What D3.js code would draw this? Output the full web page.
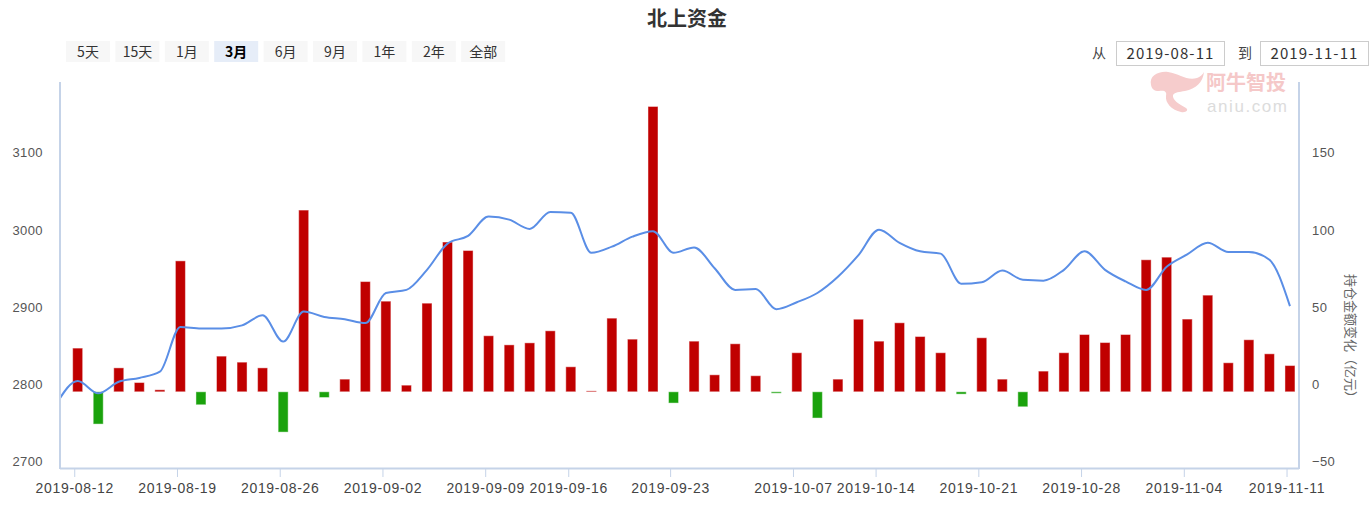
<!DOCTYPE html>
<html><head><meta charset="utf-8">
<script src="https://cdn.jsdelivr.net/npm/d3@7"></script>
<style>
body{margin:0;background:#fff;}
svg{display:block;font-family:"Microsoft YaHei","Noto Sans CJK SC","Noto Sans",sans-serif;}
</style>
</head><body>
<svg id="c" width="1372" height="505"></svg>
<script>
// ---------- data ----------
const tradeDates = [
"2019-08-09","2019-08-12","2019-08-13","2019-08-14","2019-08-15","2019-08-16",
"2019-08-19","2019-08-20","2019-08-21","2019-08-22","2019-08-23",
"2019-08-26","2019-08-27","2019-08-28","2019-08-29","2019-08-30",
"2019-09-02","2019-09-03","2019-09-04","2019-09-05","2019-09-06",
"2019-09-09","2019-09-10","2019-09-11","2019-09-12",
"2019-09-16","2019-09-17","2019-09-18","2019-09-19","2019-09-20",
"2019-09-23","2019-09-24","2019-09-25","2019-09-26","2019-09-27",
"2019-09-30",
"2019-10-08","2019-10-09","2019-10-10","2019-10-11",
"2019-10-14","2019-10-15","2019-10-16","2019-10-17","2019-10-18",
"2019-10-21","2019-10-22","2019-10-23","2019-10-24","2019-10-25",
"2019-10-28","2019-10-29","2019-10-30","2019-10-31","2019-11-01",
"2019-11-04","2019-11-05","2019-11-06","2019-11-07","2019-11-08",
"2019-11-11"];

// 上证指数 (left axis)
const indexValues = [2786,2814,2798,2813,2818,2826,2884,2882,2882,2886,2899,2865,2904,2897,2894,2889,
2928,2932,2958,2992,3002,3027,3023,3011,3033,3032,2980,2988,3001,3008,2980,2987,2960,2932,2933,2907,
2916,2928,2949,2977,3010,2993,2982,2979,2940,2942,2957,2945,2944,2958,2982,2958,2943,2932,2962,2978,
2993,2981,2981,2971,2911];

// 持仓金额变化（亿元）(right axis)
const flowValues = [null,
28.3,-20.9,15.5,6.0,1.3,84.8,-8.4,23.1,19.2,15.5,
-26.1,117.7,-3.7,8.2,71.4,58.7,4.3,57.4,97.0,91.5,
36.3,30.4,31.7,39.5,16.2,0.6,47.7,34.1,184.8,-7.3,
32.8,11.0,31.1,10.4,-0.9,25.3,-17.0,8.2,47.0,32.8,
44.7,35.8,25.3,-1.5,35.0,8.2,-9.7,13.4,25.3,37.1,
31.9,37.1,85.5,87.2,47.1,62.6,18.8,33.7,24.6,17.0];

const xTickLabels = ["2019-08-12","2019-08-19","2019-08-26","2019-09-02","2019-09-09","2019-09-16",
"2019-09-23","2019-10-07","2019-10-14","2019-10-21","2019-10-28","2019-11-04","2019-11-11"];
const leftTicks = [2700,2800,2900,3000,3100];
const rightTicks = [-50,0,50,100,150];
const leftDomain = [2700,3200];
const rightDomain = [-50,200];
const rangeButtons = ["5天","15天","1月","3月","6月","9月","1年","2年","全部"];
const selectedButton = "3月";
const rangeFrom = "2019-08-11", rangeTo = "2019-11-11";
const titleText = "北上资金";
const rightTitle = "持仓金额变化（亿元）";

// ---------- layout ----------
const P = {l:60, r:1299, t:83, b:469};
const svg = d3.select("#c");
const axisColor = "#c5d3e8";
const red = "#c00000", green = "#1aa20c", lineColor = "#5a8ee6";

// ordinal positions: points at noon, ticks at midnight
const ptTimes = tradeDates.map(s => Date.parse(s + "T12:00:00Z"));
function ordinalPos(dateStr){
  const t = Date.parse(dateStr + "T00:00:00Z");
  for (let i = 1; i < ptTimes.length; i++) {
    if (t < ptTimes[i]) return (i-1) + (t - ptTimes[i-1]) / (ptTimes[i] - ptTimes[i-1]);
  }
  return ptTimes.length - 1;
}

const x = d3.scaleLinear().domain([0.14, 60.44]).range([P.l, P.r]);
const yL = d3.scaleLinear().domain(leftDomain).range([P.b, P.t]);
const yR = d3.scaleLinear().domain(rightDomain).range([P.b, P.t]);

// ---------- title ----------
svg.append("text").attr("x", 687).attr("y", 26).attr("text-anchor","middle")
  .attr("font-size", 20).attr("font-weight","bold").attr("fill","#333").text(titleText);

// ---------- range buttons ----------
const btn = svg.append("g");
rangeButtons.forEach((b, i) => {
  const bx = 66 + i * 49.4;
  const sel = b === selectedButton;
  btn.append("rect").attr("x", bx).attr("y", 41).attr("width", 44).attr("height", 21)
    .attr("fill", sel ? "#e6edf8" : "#f7f7f7");
  btn.append("text").attr("x", bx + 22).attr("y", 56.5).attr("text-anchor","middle")
    .attr("font-size", 14).attr("fill", sel ? "#000" : "#333")
    .attr("font-weight", sel ? "bold" : "normal").text(b);
});

// ---------- date range inputs ----------
const inp = svg.append("g");
inp.append("text").attr("x", 1099).attr("y", 58).attr("text-anchor","middle")
  .attr("font-size", 14).attr("fill","#444").text("从");
inp.append("rect").attr("x", 1116.5).attr("y", 41.5).attr("width", 108).attr("height", 24)
  .attr("fill","#fff").attr("stroke","#cccccc");
inp.append("text").attr("x", 1170.5).attr("y", 58.5).attr("text-anchor","middle")
  .attr("font-size", 15).attr("letter-spacing", 1.1).attr("fill","#333").text(rangeFrom);
inp.append("text").attr("x", 1245).attr("y", 58).attr("text-anchor","middle")
  .attr("font-size", 14).attr("fill","#444").text("到");
inp.append("rect").attr("x", 1260.5).attr("y", 41.5).attr("width", 108).attr("height", 24)
  .attr("fill","#fff").attr("stroke","#cccccc");
inp.append("text").attr("x", 1314.5).attr("y", 58.5).attr("text-anchor","middle")
  .attr("font-size", 15).attr("letter-spacing", 1.1).attr("fill","#333").text(rangeTo);

// ---------- watermark ----------
const wm = svg.append("g");
wm.append("path")
  .attr("d", "M1151,85 C1149,76 1158,71 1168,72 C1180,74 1187,81 1197,78 C1200,77 1203,74 1204,72 C1203,82 1196,89 1185,91 C1179,92 1175,92 1173,95 C1172,100 1179,104 1186,108 C1189,110 1186,113 1181,112 C1172,110 1165,103 1166,96 C1167,92 1165,90 1159,91 C1154,91 1152,89 1151,85 Z")
  .attr("fill", "#f6cccc");
wm.append("text").attr("x", 1206).attr("y", 90).attr("font-size", 20).attr("font-weight","bold")
  .attr("fill", "#f5c8c8").text("阿牛智投");
wm.append("text").attr("x", 1207).attr("y", 112).attr("font-size", 17)
  .attr("font-family", "'Liberation Sans', Arial, sans-serif").attr("textLength", 80)
  .attr("fill", "#dcdcdc").text("aniu.com");

// ---------- clip ----------
svg.append("clipPath").attr("id","plotClip").append("rect")
  .attr("x", P.l).attr("y", P.t).attr("width", P.r - P.l).attr("height", P.b - P.t);

// ---------- bars ----------
const barW = 10;
const bars = flowValues.map((v,i)=>({i, v})).filter(d => d.v !== null);
svg.append("g").attr("clip-path","url(#plotClip)").selectAll("rect").data(bars).join("rect")
  .attr("x", d => x(d.i) - barW/2)
  .attr("width", barW)
  .attr("y", d => Math.min(yR(d.v), yR(0)))
  .attr("height", d => Math.max(1, Math.abs(yR(d.v) - yR(0))))
  .attr("fill", d => d.v >= 0 ? red : green)
  .attr("stroke", "rgba(255,255,255,0.45)").attr("stroke-width", 1);

// ---------- line ----------
const line = d3.line().x((d,i) => x(i)).y(d => yL(d)).curve(d3.curveMonotoneX);
svg.append("path").attr("clip-path","url(#plotClip)").datum(indexValues)
  .attr("d", line).attr("fill","none").attr("stroke", lineColor).attr("stroke-width", 2);

// ---------- axes ----------
const gL = svg.append("g").attr("transform", `translate(${P.l},0)`)
  .call(d3.axisLeft(yL).tickValues(leftTicks).tickSize(0).tickPadding(17).tickFormat(d3.format("d")));
gL.select(".domain").remove();
gL.selectAll("text").attr("y", -7.5).attr("font-size", 13).attr("letter-spacing", 0.4)
  .attr("fill","#555").attr("font-family", null);

const gR = svg.append("g").attr("transform", `translate(${P.r},0)`)
  .call(d3.axisRight(yR).tickValues(rightTicks).tickSize(0).tickPadding(13).tickFormat(d3.format("d")));
gR.select(".domain").remove();
gR.selectAll("text").attr("y", -7.5).attr("font-size", 13).attr("letter-spacing", 0.4)
  .attr("fill","#555").attr("font-family", null);

const tickPos = xTickLabels.map(ordinalPos);
const gB = svg.append("g").attr("transform", `translate(0,${P.b})`)
  .call(d3.axisBottom(x).tickValues(tickPos).tickSize(8).tickPadding(6)
    .tickFormat((d,i) => xTickLabels[i]));
gB.select(".domain").remove();
gB.selectAll("line").attr("stroke", axisColor);
gB.selectAll("text").attr("font-size", 14).attr("letter-spacing", 0.7)
  .attr("fill","#444").attr("font-family", null);

// axis lines
svg.append("line").attr("x1", P.l).attr("x2", P.l).attr("y1", 82).attr("y2", P.b)
  .attr("stroke", axisColor).attr("stroke-width", 2);
svg.append("line").attr("x1", P.r).attr("x2", P.r).attr("y1", 82).attr("y2", P.b)
  .attr("stroke", axisColor).attr("stroke-width", 2);
svg.append("line").attr("x1", P.l).attr("x2", P.r).attr("y1", P.b - 0.5).attr("y2", P.b - 0.5)
  .attr("stroke", axisColor).attr("stroke-width", 2);

// right axis title
svg.append("text").attr("transform", "translate(1346,339) rotate(90)")
  .attr("text-anchor","middle").attr("font-size", 13).attr("fill","#666").text(rightTitle);
</script>
</body></html>
